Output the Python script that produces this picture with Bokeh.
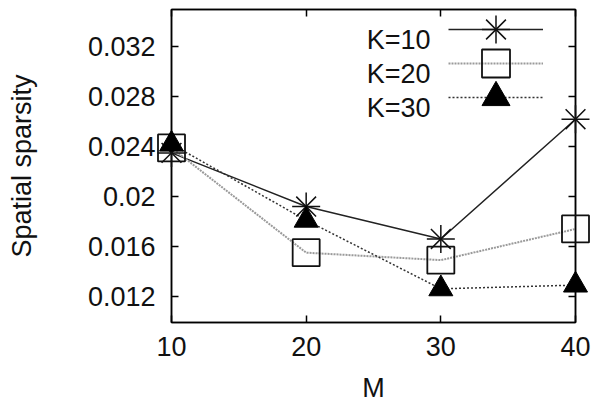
from bokeh.plotting import figure
from bokeh.models import LinearAxis, FixedTicker, Legend, LegendItem, Range1d, Label
from bokeh.embed import file_html
from bokeh.resources import INLINE

# ---- data ----
m_values = [10, 20, 30, 40]
k10 = [0.0235, 0.0192, 0.0166, 0.0262]
k20 = [0.0239, 0.0155, 0.0149, 0.0174]
k30 = [0.0242, 0.0181, 0.0126, 0.0129]
series_labels = ["K=10", "K=20", "K=30"]
x_ticks = [10, 20, 30, 40]
y_ticks = [0.012, 0.016, 0.020, 0.024, 0.028, 0.032]
y_tick_labels = ["0.012", "0.016", "0.02", "0.024", "0.028", "0.032"]
x_title = "M"
y_title = "Spatial sparsity"

FONT = "Liberation Sans"
FS = "27px"
TXT = "#111111"

p = figure(width=595, height=405, output_backend="svg", toolbar_location=None,
           x_range=Range1d(10, 40), y_range=Range1d(0.0099, 0.035),
           min_border_left=171, min_border_right=20, min_border_top=9, min_border_bottom=81)
p.background_fill_color = "white"
p.border_fill_color = "white"
p.grid.visible = False
p.outline_line_color = "black"
p.outline_line_width = 1.5

for ax in p.xaxis + p.yaxis:
    ax.axis_line_color = "black"
    ax.axis_line_width = 1.5
    ax.major_tick_in = 7
    ax.major_tick_out = 0
    ax.minor_tick_line_color = None
    ax.major_tick_line_width = 1.5
    ax.major_label_text_font = FONT
    ax.major_label_text_font_size = FS
    ax.major_label_text_color = TXT
    ax.axis_label_text_font = FONT
    ax.axis_label_text_font_size = FS
    ax.axis_label_text_font_style = "normal"
    ax.axis_label_text_color = TXT

p.xaxis.ticker = FixedTicker(ticks=x_ticks)
p.yaxis.ticker = FixedTicker(ticks=y_ticks)
p.yaxis.major_label_overrides = {t: l for t, l in zip(y_ticks, y_tick_labels)}
p.xaxis.axis_label = x_title
p.yaxis.axis_label = y_title
p.xaxis.major_label_standoff = 14
p.xaxis.axis_label_standoff = 14
p.yaxis.major_label_standoff = 16
p.yaxis.axis_label_standoff = 48

# mirrored ticks
for side, ticks in (("right", y_ticks), ("above", x_ticks)):
    ax = LinearAxis(ticker=FixedTicker(ticks=ticks))
    ax.axis_line_color = "black"
    ax.axis_line_width = 1.5
    ax.major_tick_in = 7
    ax.major_tick_out = 0
    ax.major_tick_line_width = 1.5
    ax.minor_tick_line_color = None
    ax.major_label_text_font_size = "1px"
    ax.major_label_text_alpha = 0
    ax.major_label_standoff = 0
    p.add_layout(ax, side)

# series
r10l = p.line(m_values, k10, line_color="#222222", line_width=1.5)
r20l = p.line(m_values, k20, line_color="#9a9a9a", line_width=2, line_dash="2 1")
r30l = p.line(m_values, k30, line_color="#333333", line_width=1.5, line_dash="2 2")

r10a = p.scatter(m_values, k10, marker="cross", size=28, line_color="#111111", line_width=1.5)
r10b = p.scatter(m_values, k10, marker="x", size=28, line_color="#111111", line_width=1.5)
r20m = p.scatter(m_values, k20, marker="square", size=27, line_color="#111111",
                 fill_color=None, line_width=1.8)
r30m = p.scatter(m_values, k30, marker="triangle", size=24, line_color="black",
                 fill_color="black")
for r in (r10a, r10b, r20m, r30m):
    r.level = "overlay"

# legend samples: one small legend per series (text drawn to its left, as in the reference)
renderer_groups = [[r10l, r10a, r10b], [r20l, r20m], [r30l, r30m]]
for i, (lab, rends) in enumerate(zip(series_labels, renderer_groups)):
    lg = Legend(items=[LegendItem(label=lab, renderers=rends)], location=(277, 258 - 34 * i))
    lg.glyph_width = 95
    lg.glyph_height = 70
    lg.padding = 0
    lg.margin = 0
    lg.spacing = 0
    lg.label_standoff = 0
    lg.label_width = 1
    lg.label_text_font_size = "1px"
    lg.label_text_alpha = 0
    lg.border_line_color = None
    lg.background_fill_alpha = 0
    p.add_layout(lg, "center")
    p.add_layout(Label(x=259, y=283 - 34 * i, x_units="screen", y_units="screen",
                       text=lab, text_align="right", text_baseline="alphabetic",
                       text_font=FONT, text_font_size=FS, text_color=TXT))

open("out.html", "w").write(file_html(p, INLINE))
